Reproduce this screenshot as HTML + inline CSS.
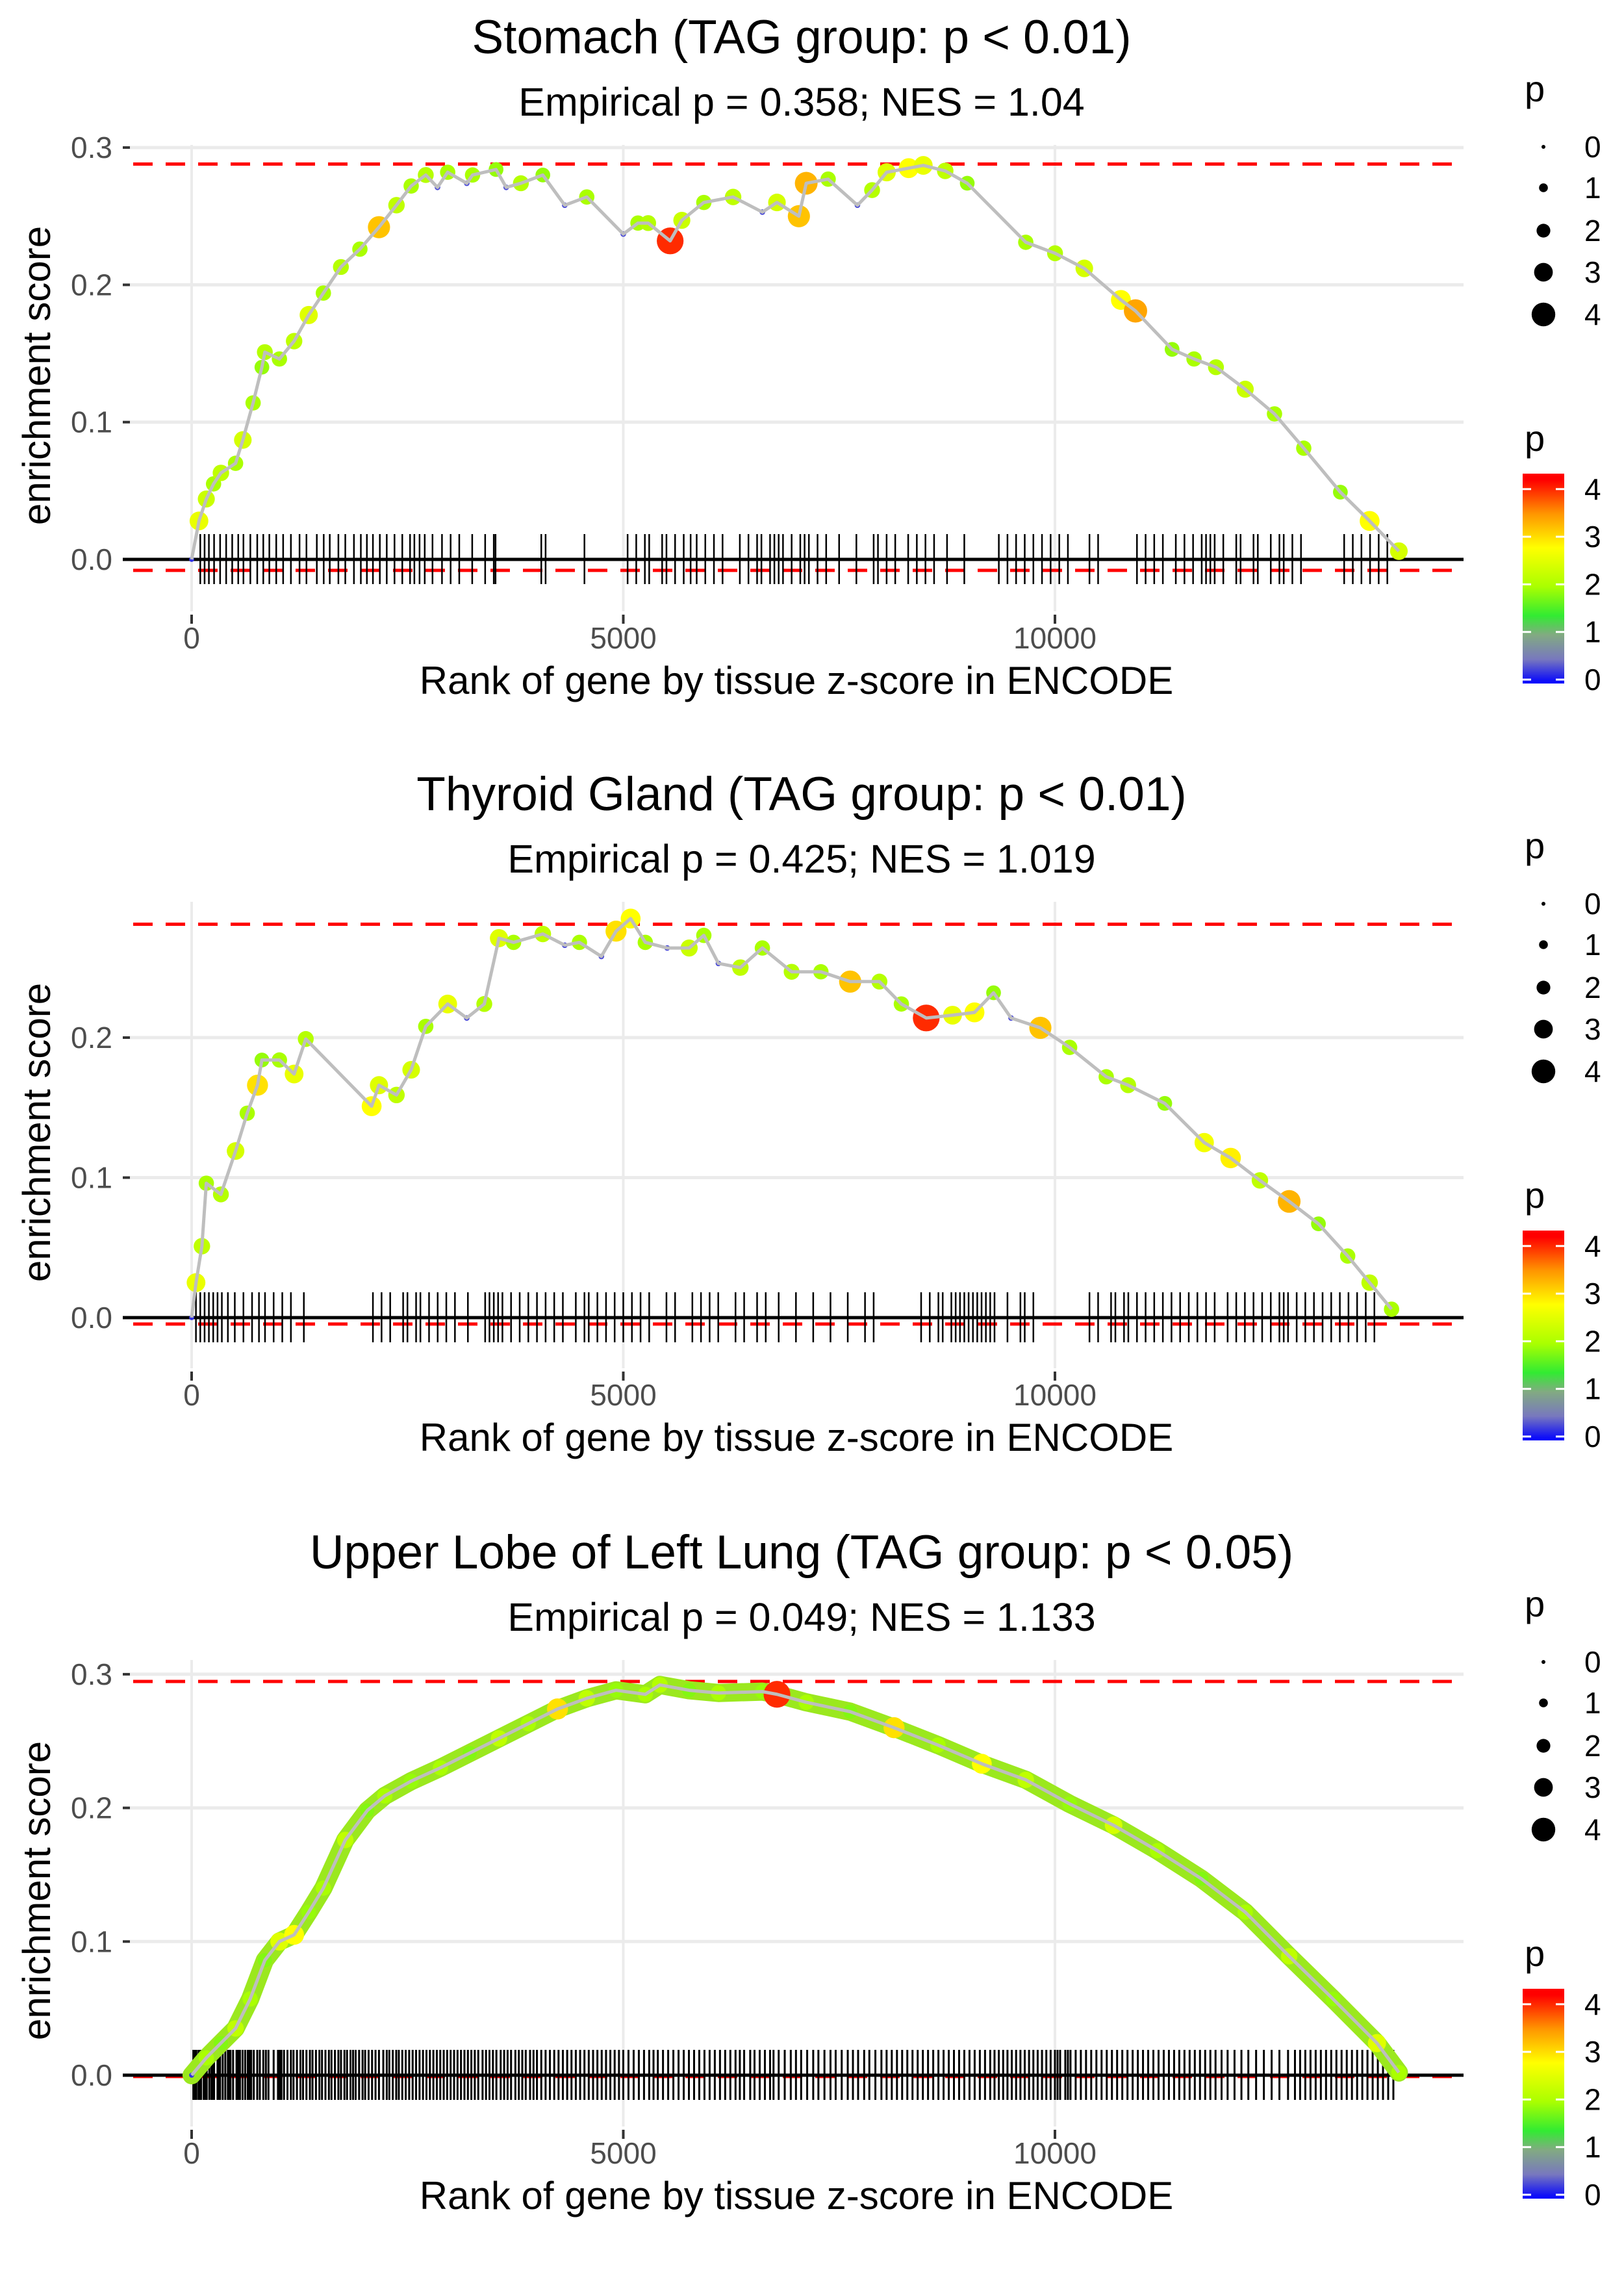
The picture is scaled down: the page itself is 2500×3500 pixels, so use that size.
<!DOCTYPE html>
<html><head><meta charset="utf-8"><title>Enrichment plots</title>
<style>
html,body{margin:0;padding:0;background:#fff;}
svg{display:block;font-family:"Liberation Sans",sans-serif;}
</style></head>
<body>
<svg id="fig" width="2500" height="3500" viewBox="0 0 2500 3500"></svg>
<script>
// ---------- DATA ----------
const titles = ["Stomach (TAG group: p < 0.01)","Thyroid Gland (TAG group: p < 0.01)","Upper Lobe of Left Lung (TAG group: p < 0.05)"];
const subtitles = ["Empirical p = 0.358; NES = 1.04","Empirical p = 0.425; NES = 1.019","Empirical p = 0.049; NES = 1.133"];
const xTicks = [0,5000,10000];
const xTickLabels = ["0","5000","10000"];
const yTicks1 = [0,0.1,0.2,0.3];
const yTicks2 = [0,0.1,0.2];
const yTicks3 = [0,0.1,0.2,0.3];
const yTickLabels = ["0.0","0.1","0.2","0.3"];
const maxES = [0.288,0.281,0.2946];
const minES = [-0.008,-0.0046,-0.001];
const sizeLegend = [0,1,2,3,4];
const colorLegend = [0,1,2,3,4];

const ranks1 = [0,85,170,254,339,509,593,712,814,848,1017,1187,1356,1526,1729,1949,2170,2373,2543,2712,2848,2966,3187,3254,3526,3644,3814,4068,4322,4577,5000,5170,5288,5543,5678,5933,6272,6611,6780,7034,7119,7373,7712,7882,8051,8306,8475,8729,8984,9662,10001,10340,10764,10933,11357,11611,11865,12204,12543,12882,13306,13645,13984];
const es1 = [0,0.028,0.044,0.055,0.063,0.07,0.087,0.114,0.14,0.151,0.146,0.159,0.178,0.194,0.213,0.226,0.242,0.258,0.272,0.28,0.271,0.282,0.274,0.28,0.284,0.271,0.274,0.28,0.258,0.264,0.237,0.245,0.245,0.232,0.247,0.26,0.264,0.253,0.26,0.25,0.274,0.277,0.258,0.269,0.282,0.285,0.287,0.283,0.274,0.231,0.223,0.212,0.189,0.181,0.153,0.146,0.14,0.124,0.106,0.081,0.049,0.028,0.006];
const p1 = [0.2,2.6,2.3,2.0,2.2,2.0,2.4,2.0,1.9,2.1,2.0,2.2,2.5,2.0,2.1,2.0,3.2,2.2,2.0,2.1,0.3,2.0,0.3,2.0,1.9,0.3,2.1,1.9,0.3,2.0,0.3,2.0,2.1,4.0,2.3,2.0,2.2,0.3,2.4,3.2,3.3,2.0,0.3,2.1,2.5,2.8,2.6,2.2,1.9,2.0,2.1,2.4,2.8,3.4,1.9,2.0,2.1,2.3,2.0,2.0,1.9,2.8,2.4];
const rug1 = [100,150,200,260,330,400,470,540,600,680,760,830,900,980,1060,1150,1250,1330,1450,1530,1600,1700,1780,1880,1960,2030,2100,2180,2260,2350,2440,2530,2580,2640,2700,2790,2900,3000,3100,3250,3400,3500,3520,4050,4100,4550,5050,5150,5250,5300,5450,5500,5600,5700,5780,5850,5950,6050,6150,6350,6450,6550,6600,6700,6750,6800,6850,6950,7050,7100,7150,7250,7350,7500,7700,7900,7950,8050,8150,8300,8400,8500,8600,8750,8950,9350,9450,9550,9650,9750,9850,9950,10050,10150,10400,10500,10950,11050,11150,11250,11400,11500,11600,11700,11750,11800,11850,11950,12100,12150,12300,12350,12500,12600,12650,12750,12850,13350,13450,13550,13650,13750,13850];

const ranks2 = [0,51,119,170,339,509,644,763,814,1017,1187,1322,2085,2170,2373,2543,2712,2966,3187,3390,3560,3729,4068,4322,4492,4746,4916,5085,5255,5509,5763,5933,6102,6356,6611,6950,7289,7628,7967,8221,8509,8814,9068,9289,9492,9831,10170,10594,10848,11272,11729,12035,12374,12713,13052,13391,13645,13899];
const es2 = [0,0.025,0.051,0.096,0.088,0.119,0.146,0.166,0.184,0.184,0.174,0.199,0.151,0.166,0.159,0.177,0.208,0.224,0.214,0.224,0.271,0.268,0.274,0.266,0.268,0.258,0.276,0.285,0.268,0.264,0.264,0.273,0.253,0.25,0.264,0.247,0.247,0.24,0.24,0.224,0.214,0.216,0.218,0.232,0.214,0.207,0.193,0.172,0.166,0.153,0.125,0.114,0.098,0.083,0.067,0.044,0.025,0.006];
const p2 = [0.2,2.6,2.2,2.0,2.1,2.4,2.0,3.0,1.9,2.0,2.6,2.1,2.8,2.5,2.2,2.4,2.0,2.6,0.3,2.1,2.5,2.0,2.2,0.3,2.0,0.3,3.0,2.8,2.0,0.3,2.3,2.0,0.3,2.2,2.0,2.1,2.0,3.2,2.1,2.0,4.0,2.6,2.8,1.9,0.3,3.2,2.0,2.0,2.1,1.9,2.7,2.9,2.2,3.3,1.9,2.0,2.2,2.0];
const rug2 = [50,100,150,200,250,300,350,420,500,600,700,780,850,950,1050,1150,1300,2100,2200,2300,2450,2500,2600,2650,2750,2850,2950,3050,3200,3400,3450,3500,3550,3600,3700,3800,3900,4000,4100,4200,4300,4450,4550,4600,4700,4800,4900,5000,5100,5200,5300,5500,5600,5800,5900,6000,6100,6300,6400,6550,6650,6800,7000,7200,7400,7600,7800,7900,8450,8550,8650,8700,8800,8850,8900,8950,9000,9050,9100,9150,9200,9250,9300,9450,9600,9650,9750,10400,10500,10650,10700,10800,10850,10950,11050,11150,11250,11350,11450,11550,11650,11750,11850,12000,12100,12200,12300,12400,12500,12600,12650,12700,12800,12900,13000,13100,13200,13300,13400,13500,13600,13700];

const ranks3 = [0,170,339,509,678,848,1017,1187,1356,1526,1780,2034,2237,2543,2882,3221,3560,3899,4238,4577,4916,5255,5424,5763,6102,6611,6780,7119,7628,8136,8645,9153,9662,10170,10679,11187,11696,12204,12713,13221,13730,13984];
const es3 = [0,0.013,0.024,0.035,0.057,0.086,0.1,0.105,0.122,0.14,0.176,0.198,0.209,0.22,0.23,0.241,0.252,0.263,0.274,0.282,0.288,0.285,0.292,0.288,0.286,0.287,0.285,0.279,0.272,0.26,0.247,0.233,0.221,0.203,0.187,0.168,0.147,0.122,0.089,0.057,0.024,0.002];
const p3 = [0.2,2.0,1.8,2.2,2.0,1.8,2.5,2.8,1.9,2.0,2.2,1.8,2.0,1.9,2.0,1.8,2.2,2.0,3.0,2.2,1.9,2.0,2.1,1.8,2.0,1.9,4.0,2.0,1.8,3.0,2.0,2.8,2.2,1.9,2.4,2.0,1.8,2.0,2.2,1.9,2.5,2.0];
const rug3 = [20,40,55,80,95,110,140,160,175,205,230,245,260,300,315,330,360,390,420,435,450,480,520,540,560,590,620,650,670,690,720,760,790,830,860,890,950,1000,1020,1040,1070,1110,1150,1180,1220,1260,1290,1330,1370,1400,1440,1480,1510,1550,1590,1620,1660,1700,1730,1770,1800,1840,1870,1900,1940,1980,2010,2050,2090,2130,2170,2220,2260,2290,2330,2370,2400,2440,2480,2520,2560,2600,2640,2680,2720,2760,2800,2840,2880,2920,2960,3000,3040,3080,3120,3160,3200,3240,3280,3320,3370,3410,3450,3490,3530,3580,3620,3660,3700,3750,3790,3830,3870,3920,3960,4000,4050,4100,4150,4200,4250,4300,4350,4400,4450,4500,4550,4600,4650,4700,4750,4800,4850,4900,4950,5000,5060,5120,5180,5240,5300,5350,5400,5460,5520,5580,5640,5700,5760,5820,5880,5940,6000,6060,6120,6180,6240,6300,6350,6400,6470,6520,6580,6640,6700,6740,6800,6870,6940,7000,7060,7130,7200,7260,7330,7400,7460,7530,7600,7660,7720,7790,7850,7920,7990,8050,8110,8170,8230,8290,8350,8410,8470,8530,8590,8650,8710,8770,8830,8890,8950,9010,9070,9130,9190,9250,9300,9350,9400,9450,9500,9550,9600,9650,9700,9750,9800,9850,9900,9950,10000,10030,10060,10120,10150,10180,10240,10300,10360,10420,10480,10540,10600,10660,10720,10780,10840,10900,10960,11020,11080,11140,11200,11260,11320,11380,11440,11500,11560,11620,11680,11740,11800,11860,11930,12000,12080,12160,12240,12330,12420,12510,12600,12700,12780,12840,12900,12960,13020,13080,13140,13200,13260,13320,13380,13440,13500,13560,13620,13680,13740,13800,13860,13920];

const panelRanks = [ranks1,ranks2,ranks3];
const panelES = [es1,es2,es3];
const panelP = [p1,p2,p3];
const panelRug = [rug1,rug2,rug3];
const panelYTicks = [yTicks1,yTicks2,yTicks3];

// ---------- LAYOUT ----------
const NS = "http://www.w3.org/2000/svg";
const svg = document.getElementById("fig");
const offsets = [0,1165,2332];
const zeroY = [861,863,862];
const kY = [2113,2155,2057];
const X0 = 295, KX = 0.1329;
const PL = 200, PR = 2253, PT = 223, PB = 941;
function xs(v){ return X0 + v*KX; }
function mk(tag, attrs, parent){ const e=document.createElementNS(NS,tag); for(const k in attrs) e.setAttribute(k,attrs[k]); parent.appendChild(e); return e; }
const stops = [[0,[0,0,255]],[0.5,[120,120,190]],[1.0,[130,170,130]],[1.4,[50,235,50]],[2.0,[170,255,0]],[2.8,[255,255,0]],[3.5,[255,150,0]],[4.2,[255,0,0]]];
function col(p){
  if(p<=stops[0][0]) return "rgb("+stops[0][1].join(",")+")";
  for(let i=1;i<stops.length;i++){ if(p<=stops[i][0]){ const a=stops[i-1],b=stops[i],t=(p-a[0])/(b[0]-a[0]);
    return "rgb("+a[1].map((c,j)=>Math.round(c+(b[1][j]-c)*t)).join(",")+")"; } }
  return "rgb(255,0,0)";
}
function rad(p){ return 3 + 4.4*p; }

for(let pi=0;pi<3;pi++){
  const g = mk("g",{transform:"translate(0,"+offsets[pi]+")"},svg);
  
  
  const ys = v => zeroY[pi] - v*kY[pi];
  const t = mk("text",{x:1234,y:82,"text-anchor":"middle","font-size":73,fill:"#000"},g);
  t.textContent = titles[pi];
  
  
  const st = mk("text",{x:1234,y:178,"text-anchor":"middle","font-size":61,fill:"#000"},g);
  st.textContent = subtitles[pi];
  
  
  const grid = mk("g",{},g);
  
  
  panelYTicks[pi].forEach((v,i)=>{
    const ln = mk("line",{x1:PL,x2:PR,y1:ys(v),y2:ys(v),stroke:"#ebebeb","stroke-width":5},grid);
    
    
    const tk = mk("line",{x1:189,x2:200,y1:ys(v),y2:ys(v),stroke:"#333","stroke-width":4},g);
    
    
    const lb = mk("text",{x:173,y:ys(v)+16,"text-anchor":"end","font-size":46,fill:"#4d4d4d"},g);
    lb.textContent = yTickLabels[i];
    
    
  });
  xTicks.forEach((v,i)=>{
    const ln = mk("line",{x1:xs(v),x2:xs(v),y1:PT,y2:PB,stroke:"#ebebeb","stroke-width":4},grid);
    
    
    const tk = mk("line",{x1:xs(v),x2:xs(v),y1:946,y2:960,stroke:"#333","stroke-width":4},g);
    
    
    const lb = mk("text",{x:xs(v),y:998,"text-anchor":"middle","font-size":46,fill:"#4d4d4d"},g);
    lb.textContent = xTickLabels[i];
    
    
  });
  [maxES[pi],minES[pi]].forEach((v,i)=>{
    const d = mk("line",{x1:205,x2:2250,y1:ys(v),y2:ys(v),stroke:"#ff0000","stroke-width":5,"stroke-dasharray":"30 20"},g);
    
    
  });
  const rugG = mk("g",{},g);
  
  
  panelRug[pi].forEach(r=>{
    const l = mk("line",{x1:xs(r),x2:xs(r),y1:zeroY[pi]-39,y2:zeroY[pi]+38,stroke:"#000","stroke-width":pi===2?3:2.5},rugG);
    
    
  });
  const z = mk("line",{x1:PL-11,x2:PR,y1:ys(0),y2:ys(0),stroke:"#000","stroke-width":5},g);
  
  
  const R = panelRanks[pi], E = panelES[pi], P = panelP[pi];
  const pts = R.map((r,i)=>xs(r)+","+ys(E[i])).join(" ");
  if(pi===2){
    const band = mk("polyline",{points:pts,fill:"none",stroke:"#9be81e","stroke-width":28,"stroke-linejoin":"round","stroke-linecap":"round"},g);
    
    
  }
  const dotsG = mk("g",{},g);
  
  
  R.forEach((r,i)=>{
    const c = mk("circle",{cx:xs(r),cy:ys(E[i]),r:rad(P[i]),fill:col(P[i])},dotsG);
    
    
  });
  const line = mk("polyline",{points:pts,fill:"none",stroke:"#bebebe","stroke-width":5,"stroke-linejoin":"round"},g);
  
  
  const xt = mk("text",{x:1226,y:1068,"text-anchor":"middle","font-size":60,fill:"#000"},g);
  xt.textContent = "Rank of gene by tissue z-score in ENCODE";
  
  
  const yt = mk("text",{x:0,y:0,transform:"translate(77,578) rotate(-90)","text-anchor":"middle","font-size":60,fill:"#000"},g);
  yt.textContent = "enrichment score";
  
  
  const lg = mk("g",{},g);
  
  
  const lt = mk("text",{x:2347,y:156,"font-size":56,fill:"#000"},lg);
  lt.textContent = "p";
  
  
  const legY = [226,289,355,419,484];
  sizeLegend.forEach((v,i)=>{
    const c = mk("circle",{cx:2376,cy:legY[i],r:3+3.8*v,fill:"#000"},lg);
    
    
    const tx = mk("text",{x:2439,y:legY[i]+16,"font-size":46,fill:"#000"},lg);
    tx.textContent = String(v);
    
    
  });
  const cg = mk("g",{},g);
  
  
  const ct = mk("text",{x:2347,y:694,"font-size":56,fill:"#000"},cg);
  ct.textContent = "p";
  
  
  const defs = mk("defs",{},cg);
  const grad = mk("linearGradient",{id:"grad"+pi,x1:0,y1:1,x2:0,y2:0},defs);
  const pMax = 4.33;
  stops.forEach(s=>{ mk("stop",{offset:Math.min(1,s[0]/pMax),"stop-color":col(s[0])},grad); });
  const bar = mk("rect",{x:2344,y:729,width:64,height:323,fill:"url(#grad"+pi+")"},cg);
  
  
  const cy = v => 1046 - v*73.3;
  colorLegend.forEach(v=>{
    const a = mk("line",{x1:2344,x2:2357,y1:cy(v),y2:cy(v),stroke:"#fff","stroke-width":3},cg);
    
    
    const b = mk("line",{x1:2395,x2:2408,y1:cy(v),y2:cy(v),stroke:"#fff","stroke-width":3},cg);
    
    
    const tx = mk("text",{x:2439,y:cy(v)+16,"font-size":46,fill:"#000"},cg);
    tx.textContent = String(v);
    
    
  });
}
</script>
</body></html>
